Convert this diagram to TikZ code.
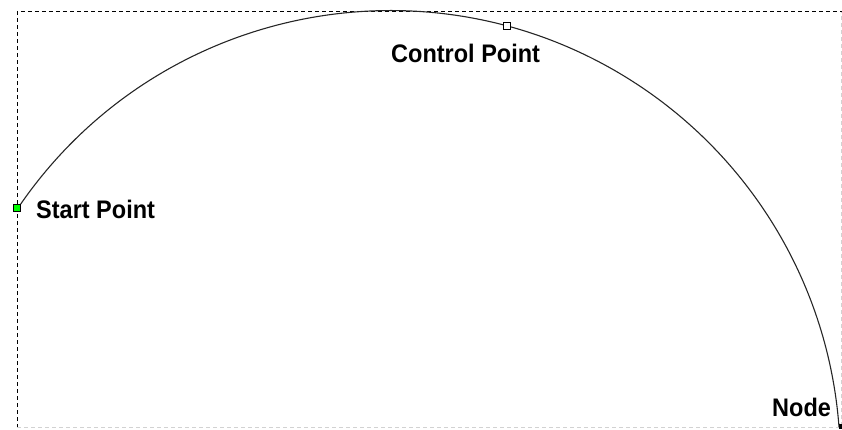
\documentclass[tikz,border=0pt]{standalone}
\usepackage{fontspec}
\setmainfont{Liberation Sans}
\definecolor{brightgreen}{RGB}{0,255,0}
\begin{document}
\begin{tikzpicture}[x=1pt,y=1pt,
  lbl/.style={font=\fontsize{23.5}{26}\selectfont\bfseries, inner sep=0pt, anchor=base west, yscale=1.08},
  frame/.style={dash pattern=on 4.3pt off 2.7pt, line width=1pt},
  frameLight/.style={frame, draw=gray!35},
  curve/.style={line width=1.1pt, draw=black!85},
  handle/.style={draw=black, line width=1pt, minimum size=6pt, inner sep=0pt}]
\useasboundingbox (0,0) rectangle (842,430);
% frame
\coordinate (tl) at (17,418);
\coordinate (tr) at (842,418);
\coordinate (bl) at (17,2);
\coordinate (br) at (841,2);
\draw[frame] (bl) -- (tl) -- (tr);
\draw[frameLight] (bl) -- (br) -- (841,418);
% curve (circular arc through start, control and end)
\coordinate (sp) at (18,222);
\draw[curve] (sp) arc[start angle=145.86, end angle=4.27, radius=449.9pt] coordinate (ep);
% markers
\node[handle, fill=brightgreen, minimum size=6.5pt] (start) at (17,222) {};
\node[handle, fill=white, minimum size=7pt] (ctrl) at (507,404) {};
\node[fill=black, inner sep=0pt, minimum width=3pt, minimum height=5pt] (endm) at (840,3) {};
% labels
\node[lbl] (lstart) at (36,211) {Start Point};
\node[lbl] (lctrl) at (391,367) {Control Point};
\node[lbl] (lnode) at (772,13) {Node};
\end{tikzpicture}
\end{document}
